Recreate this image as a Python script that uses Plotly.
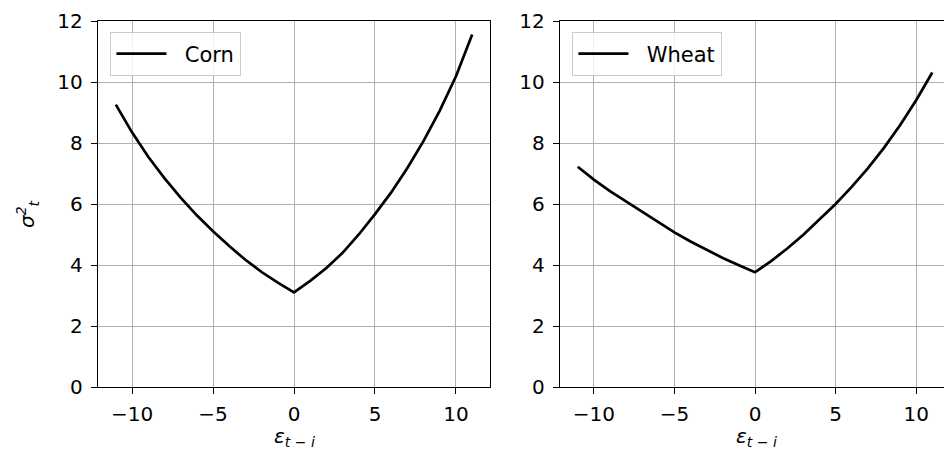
import plotly.graph_objects as go

# ---- data ----
eps = [-11, -10, -9, -8, -7, -6, -5, -4, -3, -2, -1, 0,
       1, 2, 3, 4, 5, 6, 7, 8, 9, 10, 11]
corn = [9.26, 8.35, 7.55, 6.85, 6.21, 5.63, 5.11, 4.62, 4.17, 3.77, 3.42, 3.10,
        3.48, 3.90, 4.40, 5.00, 5.67, 6.38, 7.18, 8.07, 9.06, 10.19, 11.56]
wheat = [7.22, 6.80, 6.42, 6.08, 5.73, 5.39, 5.07, 4.77, 4.49, 4.23, 3.99, 3.76,
         4.13, 4.54, 4.99, 5.48, 6.00, 6.56, 7.17, 7.84, 8.58, 9.40, 10.31]
series_names = ["Corn", "Wheat"]
x_ticks = [-10, -5, 0, 5, 10]
x_tick_labels = ["\u221210", "\u22125", "0", "5", "10"]
y_ticks = [0, 2, 4, 6, 8, 10, 12]
y_tick_labels = ["0", "2", "4", "6", "8", "10", "12"]
x_title = "<i>\u03b5<sub>t \u2212 i</sub></i>"
y_title = "<i>\u03c3<sup>2</sup><sub>t</sub></i>"

# the page body has an 8px margin, so the figure is drawn 8px in from the corner
OFF = 8
W, H = 952 - OFF, 459 - OFF
FONT = "DejaVu Sans"
TICKFONT = dict(family=FONT, size=20, color="black")
PAD = "\u00a0\u00a0"

fig = go.Figure()
fig.add_trace(go.Scatter(x=eps, y=corn, mode="lines", name=PAD + series_names[0],
                         line=dict(color="black", width=2.7),
                         xaxis="x", yaxis="y", legend="legend"))
fig.add_trace(go.Scatter(x=eps, y=wheat, mode="lines", name=PAD + series_names[1],
                         line=dict(color="black", width=2.7),
                         xaxis="x2", yaxis="y2", legend="legend2"))


def px_x(p):
    return (p - OFF) / W


def px_y(p):
    return 1 - (p - OFF) / H


ydom = [px_y(387), px_y(21)]

common_x = dict(range=[-12.1, 12.1], tickvals=x_ticks, ticktext=x_tick_labels,
                showgrid=True, gridcolor="#b0b0b0", gridwidth=1.4,
                showline=True, linecolor="black", linewidth=1.4, mirror=True,
                ticks="outside", ticklen=6, tickwidth=1.4, tickcolor="black",
                tickfont=TICKFONT, zeroline=False, ticklabelstandoff=3,
                automargin=False)
common_y = dict(range=[0, 12], tickvals=y_ticks, ticktext=y_tick_labels,
                showgrid=True, gridcolor="#b0b0b0", gridwidth=1.4,
                showline=True, linecolor="black", linewidth=1.4, mirror=True,
                ticks="outside", ticklen=6, tickwidth=1.4, tickcolor="black",
                tickfont=TICKFONT, zeroline=False, ticklabelstandoff=4,
                automargin=False)

legend_common = dict(xanchor="left", yanchor="top",
                     bgcolor="rgba(255,255,255,0.8)", bordercolor="#cccccc",
                     borderwidth=1.4, font=dict(family=FONT, size=21, color="black"),
                     itemwidth=50, tracegroupgap=0)

fig.update_layout(
    width=W, height=H,
    margin=dict(l=0, r=0, t=0, b=0, autoexpand=False),
    paper_bgcolor="white", plot_bgcolor="white",
    font=dict(family=FONT, color="black"),
    xaxis=dict(domain=[px_x(98), px_x(490)], anchor="y", **common_x),
    yaxis=dict(domain=ydom, anchor="x", **common_y),
    xaxis2=dict(domain=[px_x(560), px_x(950)], anchor="y2", **common_x),
    yaxis2=dict(domain=ydom, anchor="x2", **common_y),
    legend=dict(x=px_x(110), y=px_y(32), **legend_common),
    legend2=dict(x=px_x(572), y=px_y(32), **legend_common),
    showlegend=True,
    annotations=[
        dict(text=x_title, x=px_x(294), y=px_y(437), xref="paper", yref="paper",
             showarrow=False, xanchor="center", yanchor="middle",
             font=dict(family=FONT, size=20, color="black")),
        dict(text=x_title, x=px_x(756), y=px_y(437), xref="paper", yref="paper",
             showarrow=False, xanchor="center", yanchor="middle",
             font=dict(family=FONT, size=20, color="black")),
        dict(text=y_title, x=px_x(27), y=px_y(214), xref="paper", yref="paper",
             showarrow=False, xanchor="center", yanchor="middle", textangle=-90,
             font=dict(family=FONT, size=20, color="black")),
    ],
)

fig.write_html("out.html")
